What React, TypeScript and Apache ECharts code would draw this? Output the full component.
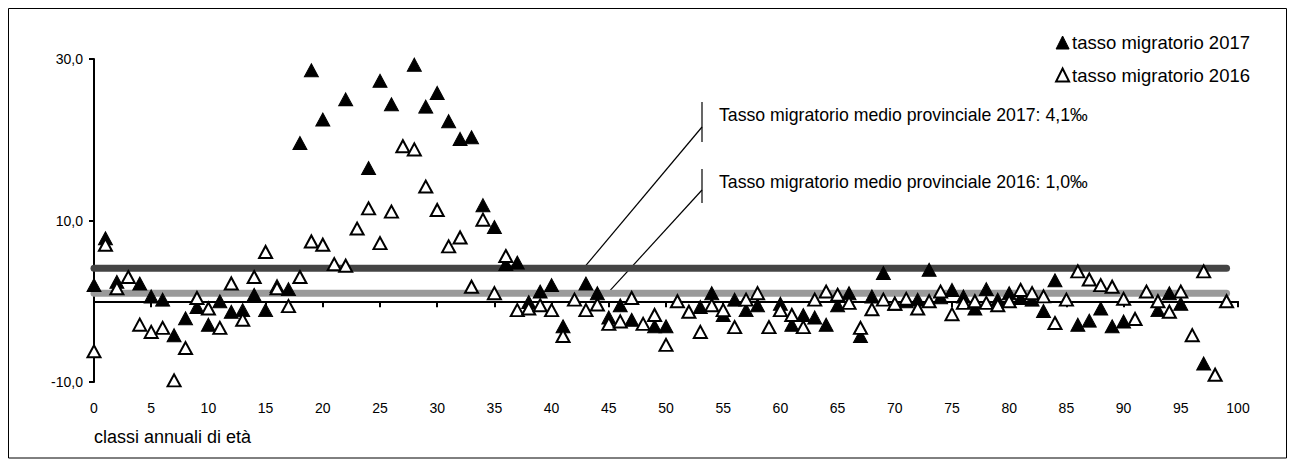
import React, { useEffect, useRef } from "react";
import * as echarts from "echarts";

const ages: number[] = Array.from({ length: 100 }, (_, i) => i);

const tasso2017: (number | null)[] = [
  2.0, 7.8, 2.4, null, 2.2, 0.6, 0.2, -4.2, -2.1, -0.7,
  -2.9, 0.0, -1.3, -1.1, 0.8, -1.1, 1.9, 1.5, 19.6, 28.6,
  22.5, null, 25.0, null, 16.5, 27.3, 24.4, null, 29.3, 24.1,
  25.8, 22.3, 20.1, 20.3, 11.9, 9.2, 4.6, 4.8, -0.1, 1.2,
  2.0, -3.1, null, 2.2, 1.0, -2.0, -0.5, -2.3, null, -3.1,
  -3.1, null, null, -0.7, 1.0, -1.7, 0.2, -1.1, -0.5, null,
  -0.3, -2.9, -1.7, -2.0, -2.9, -0.5, 1.0, -4.3, 0.6, 3.5,
  -0.3, 0.0, 0.2, 3.9, 0.5, 1.4, 0.6, -0.9, 1.5, 0.2,
  1.0, 0.4, 0.2, -1.2, 2.6, null, -2.9, -2.4, -0.9, -3.1,
  -2.5, null, null, -1.1, 1.0, -0.3, null, -7.7, null, null,
];

const tasso2016: (number | null)[] = [
  -6.2, 7.0, 1.6, 3.0, -2.9, -3.8, -3.3, -9.8, -5.8, 0.4,
  -0.9, -3.3, 2.2, -2.3, 3.0, 6.1, 1.6, -0.6, 3.0, 7.4,
  7.0, 4.6, 4.4, 9.0, 11.5, 7.2, 11.1, 19.2, 18.8, 14.2,
  11.3, 6.8, 7.9, 1.8, 10.1, 1.0, 5.6, -1.1, -0.9, -0.5,
  -1.1, -4.3, 0.2, -1.1, -0.4, -2.8, -2.5, 0.4, -2.8, -1.7,
  -5.4, 0.0, -1.3, -3.8, -0.5, -1.1, -3.2, 0.2, 1.0, -3.2,
  -1.1, -1.7, -3.2, 0.2, 1.2, 0.8, -0.2, -3.3, -1.0, 0.2,
  -0.3, 0.3, -0.9, 0.0, 1.2, -1.6, -0.2, 0.0, -0.2, -0.5,
  0.0, 1.4, 1.0, 0.6, -2.7, 0.2, 3.7, 2.7, 2.0, 1.8,
  0.3, -2.2, 1.2, 0.0, -1.3, 1.2, -4.2, 3.7, -9.1, 0.0,
];

const media2017 = 4.1;
const media2016 = 1.0;
const xTicks = { min: 0, max: 100, interval: 5 };
const yTicks = { min: -10, max: 30, interval: 20 };

const seriesNames = ["tasso migratorio 2017", "tasso migratorio 2016"];
const xTitle = "classi annuali di età";
const note2017 = "Tasso migratorio medio provinciale 2017: 4,1‰";
const note2016 = "Tasso migratorio medio provinciale 2016: 1,0‰";

const FONT = "'Liberation Sans', Arial, sans-serif";

export default function App() {
  const ref = useRef<HTMLDivElement>(null);

  useEffect(() => {
    if (!ref.current) return;
    const chart = echarts.init(ref.current, undefined, { renderer: "svg" });

    const pts2017 = ages.map((a, i) => [a, tasso2017[i]]).filter((p) => p[1] !== null);
    const pts2016 = ages.map((a, i) => [a, tasso2016[i]]).filter((p) => p[1] !== null);

    chart.setOption({
      animation: false,
      backgroundColor: "#ffffff",
      textStyle: { fontFamily: FONT },
      grid: { left: 94, right: 57, top: 59, bottom: 85, containLabel: false },
      legend: {
        orient: "vertical",
        right: 40,
        top: 28,
        itemWidth: 13,
        itemHeight: 13,
        itemGap: 13.5,
        textStyle: { fontSize: 18.5, color: "#000", fontFamily: FONT, padding: [0, 0, 0, -2] },
        data: [
          { name: seriesNames[0], icon: "triangle", itemStyle: { color: "#000", borderColor: "#000", borderWidth: 1 } },
          { name: seriesNames[1], icon: "triangle", itemStyle: { color: "#fff", borderColor: "#000", borderWidth: 2 } },
        ],
      },
      xAxis: [
        {
          type: "value",
          min: xTicks.min,
          max: xTicks.max,
          interval: xTicks.interval,
          position: "bottom",
          axisLine: { onZero: false, show: false },
          axisTick: { show: false },
          splitLine: { show: false },
          axisLabel: { color: "#000", fontSize: 14, fontFamily: FONT, margin: 19 },
        },
        {
          type: "value",
          min: xTicks.min,
          max: xTicks.max,
          interval: xTicks.interval,
          position: "bottom",
          axisLine: { onZero: true, show: true, lineStyle: { color: "#000", width: 2 } },
          axisTick: { show: true, inside: false, length: 6, lineStyle: { color: "#000", width: 2 } },
          splitLine: { show: false },
          axisLabel: { show: false },
        },
      ],
      yAxis: {
        type: "value",
        min: yTicks.min,
        max: yTicks.max,
        interval: yTicks.interval,
        axisLine: { show: true, onZero: false, lineStyle: { color: "#000", width: 2 } },
        axisTick: { show: true, length: 5, lineStyle: { color: "#000", width: 2 } },
        splitLine: { show: false },
        axisLabel: {
          color: "#000",
          fontSize: 14,
          fontFamily: FONT,
          margin: 11,
          formatter: (v: number) => v.toFixed(1).replace(".", ","),
        },
      },
      series: [
        {
          name: "media2017",
          type: "line",
          xAxisIndex: 0,
          data: [[ages[0], media2017], [ages[ages.length - 1], media2017]],
          symbol: "none",
          lineStyle: { color: "#444444", width: 7, cap: "round" },
          z: 1,
          silent: true,
        },
        {
          name: "media2016",
          type: "line",
          xAxisIndex: 0,
          data: [[ages[0], media2016], [ages[ages.length - 1], media2016]],
          symbol: "none",
          lineStyle: { color: "#9a9a9a", width: 7, cap: "round" },
          z: 1,
          silent: true,
        },
        {
          name: seriesNames[0],
          type: "scatter",
          xAxisIndex: 0,
          data: pts2017,
          symbol: "triangle",
          symbolSize: [14, 13],
          itemStyle: { color: "#000", borderColor: "#000", borderWidth: 1, opacity: 1 },
          z: 3,
        },
        {
          name: seriesNames[1],
          type: "scatter",
          xAxisIndex: 0,
          data: pts2016,
          symbol: "triangle",
          symbolSize: [13, 12],
          itemStyle: { color: "#fff", borderColor: "#000", borderWidth: 2, opacity: 1 },
          z: 4,
        },
      ],
    });

    const a1 = chart.convertToPixel({ gridIndex: 0 }, [42.8, media2017]) as number[];
    const a2 = chart.convertToPixel({ gridIndex: 0 }, [44.9, media2016]) as number[];
    const vx = 702;

    chart.setOption({
      graphic: [
        {
          type: "rect",
          shape: { x: 8.5, y: 8.5, width: 1278, height: 449.5 },
          style: { fill: "none", stroke: "#000", lineWidth: 1 },
          silent: true,
        },
        {
          type: "line",
          shape: { x1: a1[0], y1: a1[1], x2: vx, y2: 127 },
          style: { stroke: "#000", lineWidth: 1.2 },
        },
        {
          type: "line",
          shape: { x1: vx, y1: 102, x2: vx, y2: 142 },
          style: { stroke: "#000", lineWidth: 1.2 },
        },
        {
          type: "text",
          x: 719,
          y: 115,
          style: { text: note2017, font: `17.7px ${FONT}`, fill: "#000", textVerticalAlign: "middle" },
        },
        {
          type: "line",
          shape: { x1: a2[0], y1: a2[1], x2: vx, y2: 190 },
          style: { stroke: "#000", lineWidth: 1.2 },
        },
        {
          type: "line",
          shape: { x1: vx, y1: 169, x2: vx, y2: 203 },
          style: { stroke: "#000", lineWidth: 1.2 },
        },
        {
          type: "text",
          x: 719,
          y: 182,
          style: { text: note2016, font: `17.7px ${FONT}`, fill: "#000", textVerticalAlign: "middle" },
        },
        {
          type: "text",
          x: 94,
          y: 437,
          style: { text: xTitle, font: `18px ${FONT}`, fill: "#000", textVerticalAlign: "middle" },
        },
      ],
    });

    return () => chart.dispose();
  }, []);

  return (
    <div
      ref={ref}
      style={{ position: "absolute", left: 0, top: 0, width: 1295, height: 467, background: "#fff" }}
    />
  );
}
